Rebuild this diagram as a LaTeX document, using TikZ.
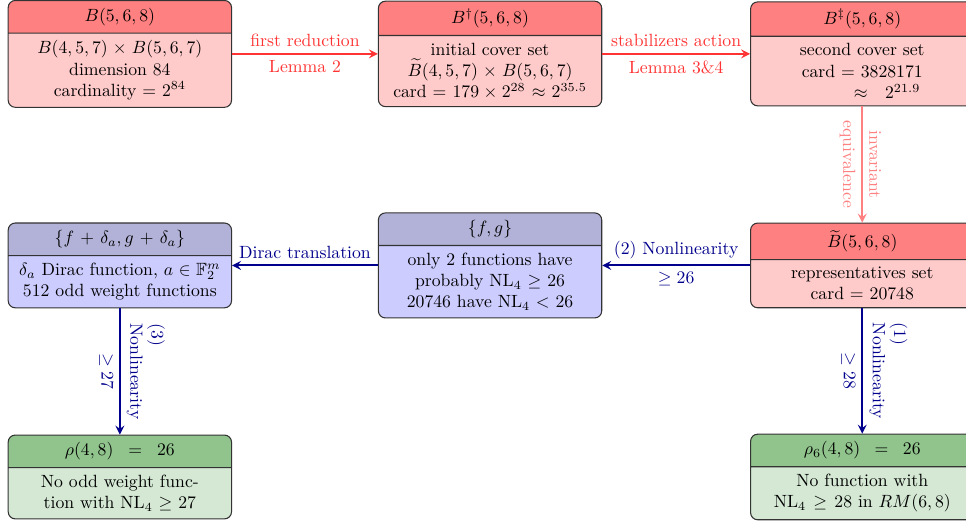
\documentclass[tikz,border=0pt]{standalone}
\usepackage{amsmath,amssymb}
\usetikzlibrary{shapes.multipart}

\definecolor{redhead}{RGB}{255,128,128}
\definecolor{redbody}{RGB}{255,202,202}
\definecolor{bluehead}{RGB}{178,178,216}
\definecolor{bluebody}{RGB}{204,204,255}
\definecolor{greenhead}{RGB}{144,196,140}
\definecolor{greenbody}{RGB}{212,232,212}
\definecolor{navy}{RGB}{0,0,140}

\begin{document}
\begin{tikzpicture}[
    box/.style={rectangle split, rectangle split parts=2, draw=black!80, semithick,
        rounded corners=4pt, text width=4.2cm, align=center, inner ysep=3.9pt},
    redbox/.style={box, rectangle split part fill={redhead,redbody}},
    bluebox/.style={box, rectangle split part fill={bluehead,bluebody}},
    greenbox/.style={box, rectangle split part fill={greenhead,greenbody}},
    redarrow/.style={->, >=stealth, very thick, red!80},
    pinkarrow/.style={->, >=stealth, very thick, red!50},
    bluearrow/.style={->, >=stealth, very thick, navy}
]
    \useasboundingbox (0,0) rectangle (19.18,-10.33);

    % top row
    \node[redbox] (full) at (2.38,-1.07) {$B(5,6,8)$
        \nodepart{two} $B(4,5,7)\times B(5,6,7)$\\ dimension 84\\ cardinality $=$ $2^{84}$};
    \node[redbox] (cover) at (9.73,-1.07) {$B^{\dagger}(5,6,8)$
        \nodepart{two} initial cover set\\ $\widetilde{B}(4,5,7)\times B(5,6,7)$\\
        card $= 179\times 2^{28}\approx 2^{35.5}$};
    \node[redbox] (second) at (17.12,-1.07) {$B^{\ddagger}(5,6,8)$
        \nodepart{two} second cover set\\ card $=$ 3828171\\ \hspace*{28pt}$\approx~2^{21.9}$};

    % middle row
    \node[redbox] (repr) at (17.12,-5.27) {$\widetilde{B}(5,6,8)$
        \nodepart{two} representatives set\\ card $=$ 20748};
    \node[bluebox] (pair) at (9.73,-5.27) {$\{f,g\}$
        \nodepart{two} only 2 functions have\\ probably NL$_4$ $\geq$ 26\\ 20746 have NL$_4$ $<$ 26};
    \node[bluebox] (dirac) at (2.38,-5.27) {$\{f+\delta_a,g+\delta_a\}$
        \nodepart{two} $\delta_a$ Dirac function, $a\in\mathbb{F}_2^m$\\ 512 odd weight functions};

    % bottom row
    \node[greenbox] (odd) at (2.38,-9.47) {$\rho(4,8)\,=\,26$
        \nodepart{two} No odd weight func-\\tion with NL$_4$ $\geq$ 27};
    \node[greenbox] (all) at (17.12,-9.47) {$\rho_6(4,8)\,=\,26$
        \nodepart{two} No function with\\ NL$_4\geq 28$ in $RM(6,8)$};

    % arrows
    \draw[redarrow] (full) -- node[above] {first reduction} node[below] {Lemma 2} (cover);
    \draw[redarrow] (cover) -- node[above] {stabilizers action} node[below] {Lemma 3\&4} (second);
    \draw[pinkarrow] (second) -- node[above, rotate=-90] {invariant}
        node[below, rotate=-90] {equivalence} (repr);
    \draw[bluearrow] (repr) -- node[above] {(2) Nonlinearity} node[below] {$\geq 26$} (pair);
    \draw[bluearrow] (pair) -- node[above] {Dirac translation} (dirac);
    \draw[bluearrow] (repr) -- node[above, rotate=-90, align=left] {(1)\\Nonlinearity}
        node[below, rotate=-90] {$\geq 28$} (all);
    \draw[bluearrow] (dirac) -- node[above, rotate=-90, align=left] {(3)\\Nonlinearity}
        node[below, rotate=-90] {$\geq 27$} (odd);

\end{tikzpicture}
\end{document}
